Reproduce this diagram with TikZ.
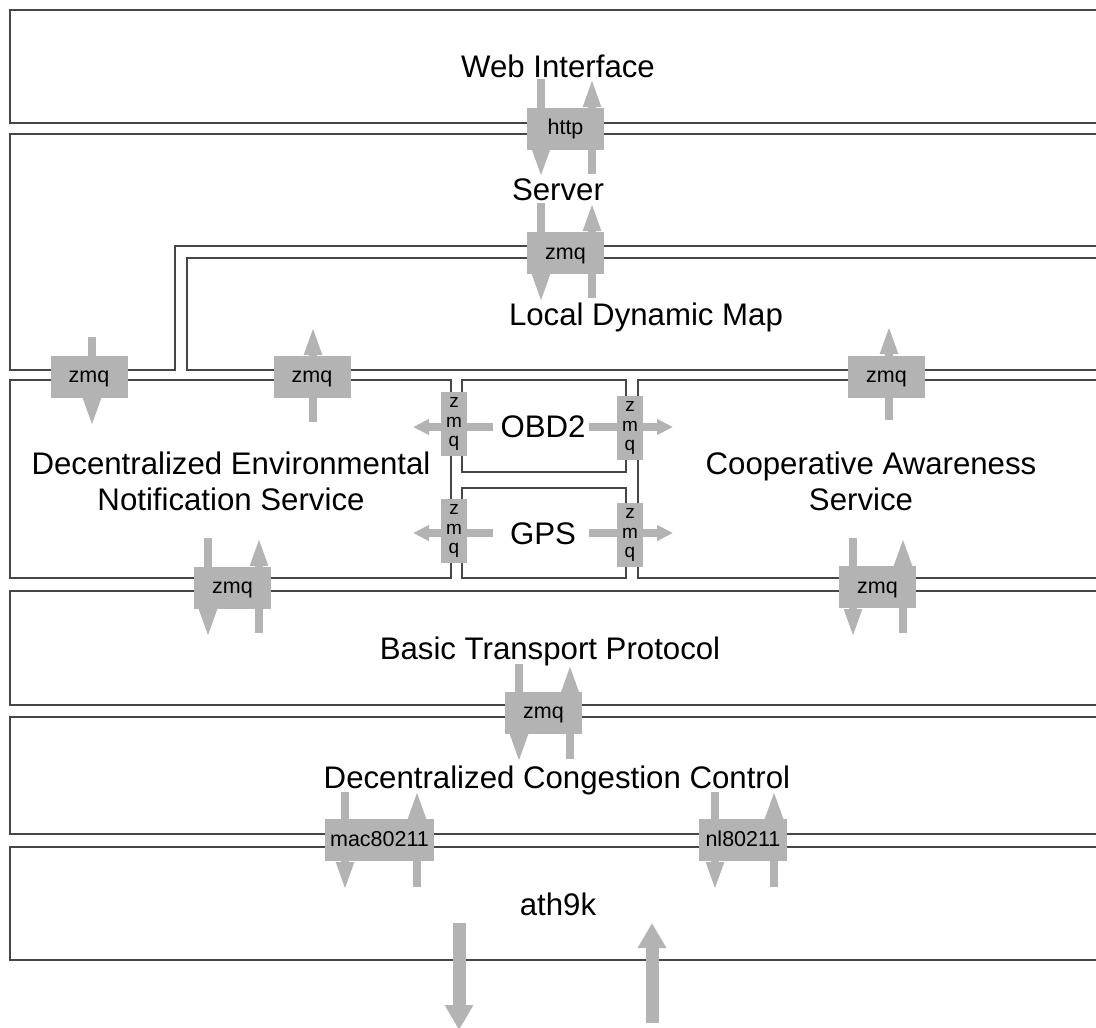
\documentclass[tikz,border=0pt]{standalone}
\usepackage{fontspec}
\setmainfont{Liberation Sans}
\usetikzlibrary{arrows.meta}
\definecolor{pipegray}{RGB}{179,179,179}
\definecolor{frame}{RGB}{70,70,70}
\tikzset{
  layer/.style={draw=frame, line width=1.3pt},
  big/.style={font=\fontsize{31.2}{36}\selectfont, anchor=base, inner sep=0pt},
  port/.style={fill=pipegray, draw=none, inner sep=0pt, minimum width=77pt, minimum height=42pt,
    text height=12pt, text depth=0pt, font=\fontsize{21.5}{24}\selectfont, text=black},
  sideport/.style={fill=pipegray, draw=none, inner sep=0pt, minimum width=26pt, minimum height=64pt,
    align=center, font=\fontsize{19}{19.5}\selectfont, text=black},
  vpipe/.style={draw=pipegray, line width=8pt, -{Triangle[width=16pt,length=29pt]}},
  hpipe/.style={draw=pipegray, line width=7.5pt, -{Triangle[width=15pt,length=16pt]}},
  radio/.style={draw=pipegray, line width=13pt, -{Triangle[width=27pt,length=25pt]}}
}
\begin{document}
\begin{tikzpicture}[x=1pt,y=-1pt]
\useasboundingbox (0,0) rectangle (1096,1028);
\clip (0,0) rectangle (1096,1028);
\fill[white] (0,0) rectangle (1096,1028);

% ---- layer outlines ----
\draw[layer] (10,10) rectangle (1120,123);
\draw[layer] (1120,134) -- (10,134) -- (10,370) -- (175,370) -- (175,246) -- (1120,246);
\draw[layer] (1120,258) -- (187,258) -- (187,370) -- (1120,370);
\draw[layer] (10,380) rectangle (451,578);
\draw[layer] (462,380) rectangle (626,472);
\draw[layer] (462,488) rectangle (626,578);
\draw[layer] (1120,380) -- (638,380) -- (638,578) -- (1120,578);
\draw[layer] (10,591) rectangle (1120,705);
\draw[layer] (10,717) rectangle (1120,834);
\draw[layer] (10,847) rectangle (1120,960);

% ---- layer names ----
\node[big] (web) at (558,77) {Web Interface};
\node[big] (srv) at (558,200) {Server};
\node[big] (ldm) at (646,325) {Local Dynamic Map};
\node[big] (dens1) at (231,474) {Decentralized Environmental};
\node[big] (dens2) at (231,510) {Notification Service};
\node[big] (obd) at (543,437) {OBD2};
\node[big] (gps) at (543,544) {GPS};
\node[big] (cas1) at (871,474) {Cooperative Awareness};
\node[big] (cas2) at (861,510) {Service};
\node[big] (btp) at (550,659) {Basic Transport Protocol};
\node[big] (dcc) at (557,788) {Decentralized Congestion Control};
\node[big] (ath) at (558,915) {ath9k};

% ---- arrow end points ----
\coordinate (h1s) at (541,79);  \coordinate (h1e) at (541,178);
\coordinate (h2s) at (592,174); \coordinate (h2e) at (592,78);
\coordinate (z1s) at (541,203); \coordinate (z1e) at (541,303);
\coordinate (z2s) at (592,298); \coordinate (z2e) at (592,202);
\coordinate (l1s) at (92,337);  \coordinate (l1e) at (92,427);
\coordinate (l2s) at (313,422); \coordinate (l2e) at (313,326);
\coordinate (c1s) at (889,420); \coordinate (c1e) at (889,325);
\coordinate (d1s) at (208,538); \coordinate (d1e) at (208,638);
\coordinate (d2s) at (259,633); \coordinate (d2e) at (259,537);
\coordinate (k1s) at (853,538); \coordinate (k1e) at (853,638);
\coordinate (k2s) at (903,633); \coordinate (k2e) at (903,537);
\coordinate (b1s) at (519,664); \coordinate (b1e) at (519,763);
\coordinate (b2s) at (570,759); \coordinate (b2e) at (570,664);
\coordinate (m1s) at (345,792); \coordinate (m1e) at (345,891);
\coordinate (m2s) at (417,887); \coordinate (m2e) at (417,790);
\coordinate (n1s) at (715,792); \coordinate (n1e) at (715,891);
\coordinate (n2s) at (774,887); \coordinate (n2e) at (774,790);
\coordinate (ol) at (493,427);  \coordinate (olt) at (413,427);
\coordinate (or) at (589,427);  \coordinate (ort) at (673,427);
\coordinate (gl) at (493,533);  \coordinate (glt) at (413,533);
\coordinate (gr) at (589,533);  \coordinate (grt) at (673,533);
\coordinate (r1s) at (459,923); \coordinate (r1e) at (459,1030);
\coordinate (r2s) at (652,1023); \coordinate (r2e) at (652,923);

% ---- data flows ----
\foreach \a/\b in {h1s/h1e,h2s/h2e,z1s/z1e,z2s/z2e,l1s/l1e,l2s/l2e,c1s/c1e,
                   d1s/d1e,d2s/d2e,k1s/k1e,k2s/k2e,b1s/b1e,b2s/b2e,
                   m1s/m1e,m2s/m2e,n1s/n1e,n2s/n2e}
  \draw[vpipe] (\a) -- (\b);
\foreach \a/\b in {ol/olt,or/ort,gl/glt,gr/grt}
  \draw[hpipe] (\a) -- (\b);
\draw[radio] (r1s) -- (r1e);
\draw[radio] (r2s) -- (r2e);

% ---- interface blocks ----
\node[port] (http) at (565.5,128.5) {http};
\node[port] (zsrv) at (565.5,253) {zmq};
\node[port] (zdl) at (89,376.5) {zmq};
\node[port] (zdu) at (312,376.5) {zmq};
\node[port] (zcu) at (886.5,376.5) {zmq};
\node[port] (zdb) at (232.5,587.5) {zmq};
\node[port] (zcb) at (877.5,587) {zmq};
\node[port] (zbtp) at (543.5,712.5) {zmq};
\node[port, minimum width=109pt] (mac) at (379.5,840) {mac80211};
\node[port, minimum width=88pt] (nl) at (743,840) {nl80211};
\node[sideport] (sol) at (454,424) {z\\m\\q};
\node[sideport] (sor) at (630,428) {z\\m\\q};
\node[sideport] (sgl) at (454,531) {z\\m\\q};
\node[sideport] (sgr) at (630,535) {z\\m\\q};
\end{tikzpicture}
\end{document}
